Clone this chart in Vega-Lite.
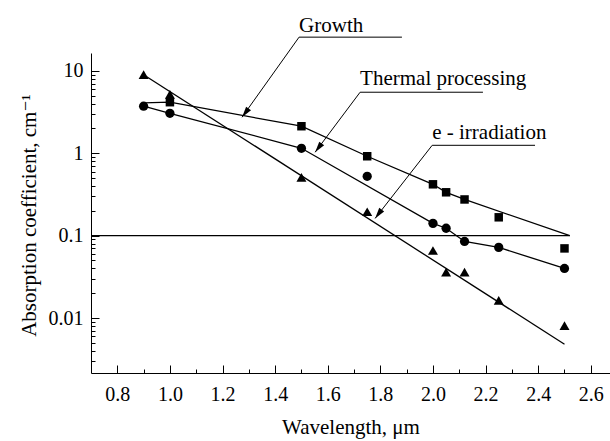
{
  "$schema": "https://vega.github.io/schema/vega-lite/v6.json",
  "width": 519,
  "height": 320,
  "autosize": {"type": "none"},
  "padding": {"left": 91, "top": 53, "right": 0, "bottom": 68},
  "config": {
    "view": {"stroke": null},
    "font": "'Liberation Serif', 'Times New Roman', 'DejaVu Serif', serif",
    "axis": {"grid": false, "domainColor": "black", "tickColor": "black", "labelColor": "black", "titleColor": "black", "labelFont": "'Liberation Serif', 'Times New Roman', 'DejaVu Serif', serif", "titleFont": "'Liberation Serif', 'Times New Roman', 'DejaVu Serif', serif", "labelFontSize": 20, "titleFontSize": 21, "titleFontWeight": "normal"}
  },
  "datasets": {
    "points": [
      {"series": "Growth", "x": 1.0, "y": 4.17}, {"series": "Growth", "x": 1.5, "y": 2.13}, {"series": "Growth", "x": 1.75, "y": 0.92}, {"series": "Growth", "x": 2.0, "y": 0.42}, {"series": "Growth", "x": 2.05, "y": 0.336}, {"series": "Growth", "x": 2.12, "y": 0.275}, {"series": "Growth", "x": 2.25, "y": 0.167}, {"series": "Growth", "x": 2.5, "y": 0.07},
      {"series": "Thermal", "x": 0.9, "y": 3.73}, {"series": "Thermal", "x": 1.0, "y": 3.06}, {"series": "Thermal", "x": 1.5, "y": 1.15}, {"series": "Thermal", "x": 1.75, "y": 0.525}, {"series": "Thermal", "x": 2.0, "y": 0.141}, {"series": "Thermal", "x": 2.05, "y": 0.123}, {"series": "Thermal", "x": 2.12, "y": 0.085}, {"series": "Thermal", "x": 2.25, "y": 0.072}, {"series": "Thermal", "x": 2.5, "y": 0.04},
      {"series": "Irradiation", "x": 0.9, "y": 9.0}, {"series": "Irradiation", "x": 1.0, "y": 5.2}, {"series": "Irradiation", "x": 1.5, "y": 0.51}, {"series": "Irradiation", "x": 1.75, "y": 0.195}, {"series": "Irradiation", "x": 2.0, "y": 0.066}, {"series": "Irradiation", "x": 2.05, "y": 0.036}, {"series": "Irradiation", "x": 2.12, "y": 0.036}, {"series": "Irradiation", "x": 2.25, "y": 0.0164}, {"series": "Irradiation", "x": 2.5, "y": 0.0081}
    ],
    "fits": [
      {"series": "Growth", "x": 0.9, "y": 4.1}, {"series": "Growth", "x": 1.0, "y": 4.17}, {"series": "Growth", "x": 1.5, "y": 2.13}, {"series": "Growth", "x": 1.75, "y": 0.92}, {"series": "Growth", "x": 2.0, "y": 0.42}, {"series": "Growth", "x": 2.05, "y": 0.336}, {"series": "Growth", "x": 2.12, "y": 0.275}, {"series": "Growth", "x": 2.52, "y": 0.1},
      {"series": "Thermal", "x": 0.9, "y": 3.73}, {"series": "Thermal", "x": 1.0, "y": 3.06}, {"series": "Thermal", "x": 1.5, "y": 1.15}, {"series": "Thermal", "x": 2.0, "y": 0.141}, {"series": "Thermal", "x": 2.05, "y": 0.123}, {"series": "Thermal", "x": 2.12, "y": 0.085}, {"series": "Thermal", "x": 2.25, "y": 0.072}, {"series": "Thermal", "x": 2.5, "y": 0.04},
      {"series": "Irradiation", "x": 0.9, "y": 9.0}, {"series": "Irradiation", "x": 2.5, "y": 0.0048},
      {"series": "Reference", "x": 0.7, "y": 0.1}, {"series": "Reference", "x": 2.52, "y": 0.1}
    ],
    "leaders": [
      {"label": "Growth", "x": 1.274, "y": 2.74}, {"label": "Growth", "x": 1.491, "y": 25.7}, {"label": "Growth", "x": 1.882, "y": 25.7},
      {"label": "Thermal", "x": 1.552, "y": 1.03}, {"label": "Thermal", "x": 1.723, "y": 5.51}, {"label": "Thermal", "x": 2.19, "y": 5.51},
      {"label": "Irradiation", "x": 1.78, "y": 0.162}, {"label": "Irradiation", "x": 1.997, "y": 1.25}, {"label": "Irradiation", "x": 2.388, "y": 1.25}
    ],
    "arrows": [
      {"label": "Growth", "x": 1.274, "y": 2.74}, {"label": "Thermal", "x": 1.552, "y": 1.03}, {"label": "Irradiation", "x": 1.78, "y": 0.162}
    ],
    "texts": [
      {"text": "Growth", "x": 1.491, "y": 29.5}, {"text": "Thermal processing", "x": 1.723, "y": 6.7}, {"text": "e - irradiation", "x": 1.997, "y": 1.48}
    ]
  },
  "encoding": {
    "x": {
      "field": "x", "type": "quantitative",
      "scale": {"domain": [0.7, 2.673], "nice": false, "zero": false},
      "axis": {
        "title": "Wavelength, μm", "titleY": 60, "titleBaseline": "alphabetic",
        "values": [0.8, 0.9, 1.0, 1.1, 1.2, 1.3, 1.4, 1.5, 1.6, 1.7, 1.8, 1.9, 2.0, 2.1, 2.2, 2.3, 2.4, 2.5, 2.6],
        "format": ".1f",
        "labelExpr": "abs(datum.value*5 - round(datum.value*5)) < 0.000001 ? datum.label : ''",
        "tickSize": {"condition": {"test": "abs(datum.value*5 - round(datum.value*5)) < 0.000001", "value": -8}, "value": -4},
        "labelPadding": 19,
        "labelFlush": false, "labelOverlap": false
      }
    },
    "y": {
      "field": "y", "type": "quantitative",
      "scale": {"type": "log", "domain": [0.00215, 16.5], "nice": false},
      "axis": {
        "title": "Absorption coefficient, cm⁻¹", "titleX": -56, "titleY": 162, "titleBaseline": "alphabetic", "titleAlign": "center", "titleAngle": 270,
        "values": [0.003, 0.004, 0.005, 0.006, 0.007, 0.008, 0.009, 0.01, 0.02, 0.03, 0.04, 0.05, 0.06, 0.07, 0.08, 0.09, 0.1, 0.2, 0.3, 0.4, 0.5, 0.6, 0.7, 0.8, 0.9, 1, 2, 3, 4, 5, 6, 7, 8, 9, 10],
        "format": "~g",
        "labelExpr": "abs(log(datum.value)/LN10 - round(log(datum.value)/LN10)) < 0.000001 ? datum.label : ''",
        "tickSize": {"condition": {"test": "abs(log(datum.value)/LN10 - round(log(datum.value)/LN10)) < 0.000001", "value": -8}, "value": -4},
        "labelPadding": 16,
        "labelFlush": false, "labelOverlap": false
      }
    }
  },
  "layer": [
    {
      "data": {"name": "fits"},
      "mark": {"type": "line", "color": "black", "strokeWidth": 1.3, "clip": false},
      "encoding": {"detail": {"field": "series"}}
    },
    {
      "data": {"name": "leaders"},
      "mark": {"type": "line", "color": "black", "strokeWidth": 1, "clip": false},
      "encoding": {"detail": {"field": "label"}}
    },
    {
      "data": {"name": "arrows"},
      "mark": {"type": "point", "filled": true, "color": "black", "opacity": 1, "shape": "M0,0L-0.28,1L0.28,1Z", "size": 480, "angle": 217, "clip": false},
      "encoding": {}
    },
    {
      "data": {"name": "points"},
      "mark": {"type": "point", "filled": true, "color": "black", "opacity": 1, "clip": false},
      "encoding": {
        "shape": {"field": "series", "type": "nominal", "scale": {"domain": ["Growth", "Thermal", "Irradiation"], "range": ["square", "circle", "triangle-up"]}, "legend": null},
        "size": {"field": "series", "type": "nominal", "scale": {"domain": ["Growth", "Thermal", "Irradiation"], "range": [72, 100, 130]}, "legend": null}
      }
    },
    {
      "data": {"name": "texts"},
      "mark": {"type": "text", "align": "left", "baseline": "alphabetic", "font": "'Liberation Serif', 'Times New Roman', 'DejaVu Serif', serif", "fontSize": 21, "color": "black", "clip": false},
      "encoding": {"text": {"field": "text"}}
    }
  ]
}
